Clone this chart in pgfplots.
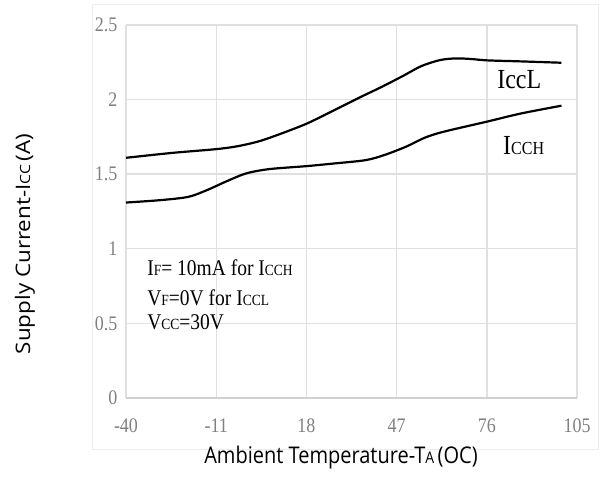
\documentclass[border=0pt]{standalone}
\usepackage{pgfplots}
\pgfplotsset{compat=1.18}
\usepackage{graphicx}
\usepackage{fontspec}
\setmainfont{Liberation Serif}
\newfontfamily\labfont{Open Sans}
\newcommand{\sm}[1]{{\fontsize{13.5pt}{13.5pt}\selectfont #1}}
\newcommand{\smb}[1]{{\fontsize{16pt}{16pt}\selectfont #1}}
\newcommand{\sml}[1]{{\fontsize{14pt}{14pt}\selectfont #1}}
\newcommand{\vs}[1]{\scalebox{1}[1.15]{#1}}

\begin{document}
\begin{tikzpicture}
\useasboundingbox (0pt,0pt) rectangle (608pt,486pt);
\draw[black!7, line width=1pt] (92pt,36pt) rectangle (598pt,481pt);
\begin{axis}[
  at={(126pt,88pt)}, anchor=south west,
  scale only axis, width=451pt, height=373pt,
  xmin=-40, xmax=105, ymin=0, ymax=2.5,
  xtick={-40,-11,18,47,76,105},
  ytick={0,0.5,1,1.5,2,2.5},
  grid=major,
  major grid style={black!12, line width=1.4pt},
  major tick length=0pt,
  axis line style={draw=none},
  /pgf/number format/assume math mode=true,
  tick label style={font=\fontsize{18pt}{18pt}\selectfont, text=black!50},
  xticklabel={\vs{\pgfmathprintnumber{\tick}}},
  yticklabel={\vs{\pgfmathprintnumber{\tick}}},
  xticklabel style={yshift=-17pt},
  yticklabel style={xshift=-5pt},
  clip=false,
]
\draw[black!18, line width=1.6pt] (axis cs:-40,0) -- (axis cs:105,0);
\addplot[black, line width=2.2pt, smooth, tension=0.5] coordinates {
(-40,1.61) (-25,1.643) (-11,1.668) (-4,1.688) (3,1.722) (10,1.773) (18,1.838)
(26,1.919) (35,2.013) (42,2.083) (49,2.158) (55,2.225) (61,2.265) (66,2.276) (71,2.272)
(76,2.263) (87,2.256) (100,2.247)
};
\addplot[black, line width=2.2pt, smooth, tension=0.5] coordinates {
(-40,1.31) (-29,1.326) (-20,1.348) (-14,1.393) (-7.6,1.453) (-1.4,1.505) (6,1.534)
(18,1.554) (27,1.572) (37,1.594) (43,1.628) (50,1.684) (56,1.744) (62,1.784)
(76,1.852) (87,1.907) (100,1.959)
};
\node[anchor=base west, inner sep=0pt, font=\fontsize{19.5pt}{19.5pt}\selectfont] at (axis cs:-33.2,0.824) {\vs{I\sm{F}= 10mA for I\sm{CCH}}};
\node[anchor=base west, inner sep=0pt, font=\fontsize{19.5pt}{19.5pt}\selectfont] at (axis cs:-33.2,0.618) {\vs{V\sm{F}=0V for I\sm{CCL}}};
\node[anchor=base west, inner sep=0pt, font=\fontsize{19.5pt}{19.5pt}\selectfont] at (axis cs:-33.2,0.462) {\vs{V\sm{CC}=30V}};
\node[anchor=base west, inner sep=0pt, font=\fontsize{24pt}{24pt}\selectfont] at (axis cs:79.3,2.071) {\vs{IccL}};
\node[anchor=base west, inner sep=0pt, font=\fontsize{24pt}{24pt}\selectfont] at (axis cs:81.2,1.629) {\vs{I\smb{CCH}}};
\end{axis}
\node[anchor=base, inner sep=0pt, font=\labfont\fontsize{20pt}{20pt}\selectfont] at (341pt,22pt) {\vs{Ambient Temperature-T\sml{A}\,(OC)}};
\node[rotate=90, anchor=center, inner sep=0pt, font=\labfont\fontsize{20pt}{20pt}\selectfont] at (25pt,242pt) {\scalebox{1.12}[1]{Supply Current-I\sml{CC}\,(A)}};
\end{tikzpicture}
\end{document}
